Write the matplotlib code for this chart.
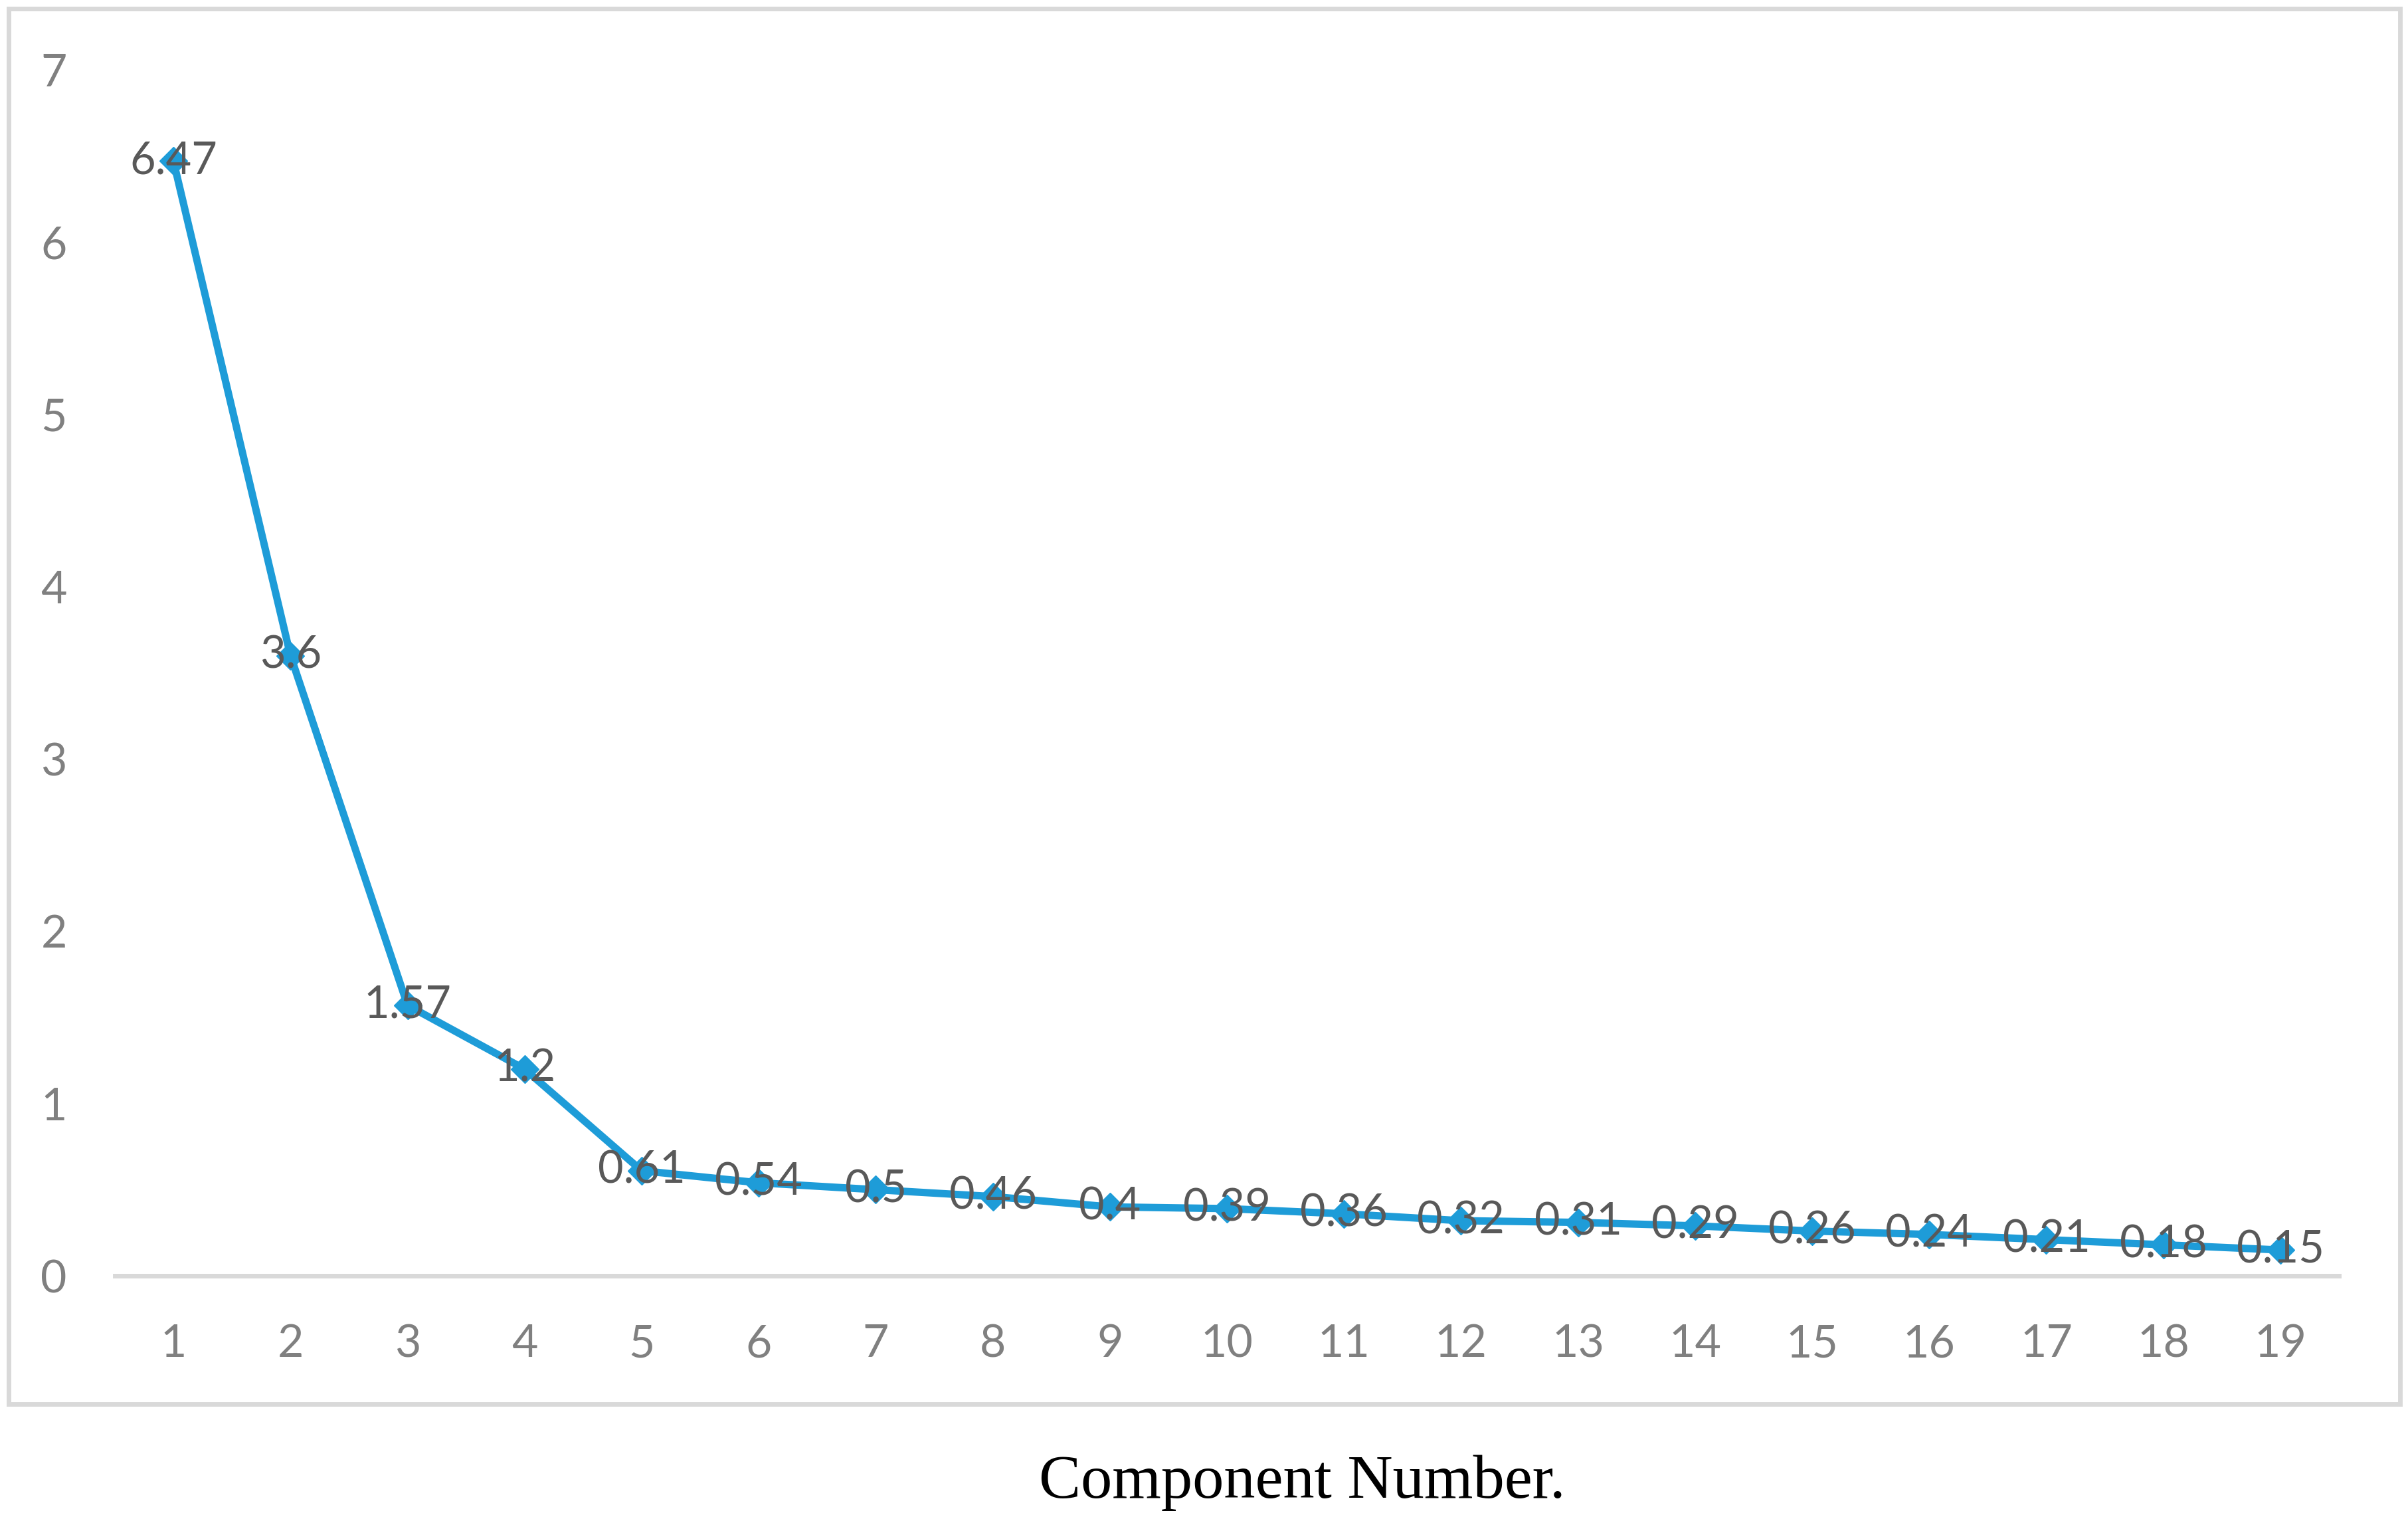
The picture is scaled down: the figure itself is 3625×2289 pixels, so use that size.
import matplotlib
matplotlib.use("Agg")
import matplotlib.pyplot as plt
from matplotlib.patches import Rectangle

components = list(range(1, 20))
eigenvalues = [6.47, 3.6, 1.57, 1.2, 0.61, 0.54, 0.5, 0.46, 0.4, 0.39,
               0.36, 0.32, 0.31, 0.29, 0.26, 0.24, 0.21, 0.18, 0.15]
value_labels = ["6.47", "3.6", "1.57", "1.2", "0.61", "0.54", "0.5", "0.46", "0.4", "0.39",
                "0.36", "0.32", "0.31", "0.29", "0.26", "0.24", "0.21", "0.18", "0.15"]
y_ticks = [0, 1, 2, 3, 4, 5, 6, 7]
x_label = "Component Number."

W, H = 3625, 2289
fig = plt.figure(figsize=(W / 100, H / 100), dpi=100)
fig.patch.set_facecolor("white")

# outer chart border
border = Rectangle((13 / W, 1 - 2113 / H), (3613 - 13) / W, (2113 - 13) / H,
                   transform=fig.transFigure, fill=False,
                   edgecolor="#d9d9d9", linewidth=5, zorder=0)
fig.add_artist(border)

ax = fig.add_axes([173 / W, 1 - 1920 / H, (3521 - 173) / W, (1920 - 105) / H])
ax.set_facecolor("none")

line_color = "#1e9cd8"
ax.plot(components, eigenvalues, color=line_color, linewidth=8,
        marker="D", markersize=21, markerfacecolor=line_color,
        markeredgecolor=line_color, zorder=3, clip_on=False)

for x, y, t in zip(components, eigenvalues, value_labels):
    ax.text(x, y, t, ha="center", va="center", fontsize=48, family="Lato",
            color="#595959", zorder=4)

ax.set_xlim(0.5, 19.5)
ax.set_ylim(0, 7)
ax.set_xticks(components)
ax.set_xticklabels([str(c) for c in components])
ax.set_yticks(y_ticks)
ax.set_yticklabels([str(v) for v in y_ticks])

for lab in ax.get_xticklabels() + ax.get_yticklabels():
    lab.set_fontfamily("Lato")
    lab.set_fontsize(49)
    lab.set_color("#808080")

ax.tick_params(axis="both", length=0)
ax.tick_params(axis="x", pad=52)
ax.tick_params(axis="y", pad=52)

for s in ["top", "right", "left"]:
    ax.spines[s].set_visible(False)
ax.spines["bottom"].set_color("#d9d9d9")
ax.spines["bottom"].set_linewidth(5)

fig.text(1960 / W, 1 - 2232 / H, x_label, ha="center", va="center",
         fontsize=68, family="Liberation Serif", color="black")

fig.savefig("out.png", dpi=100, facecolor="white")
